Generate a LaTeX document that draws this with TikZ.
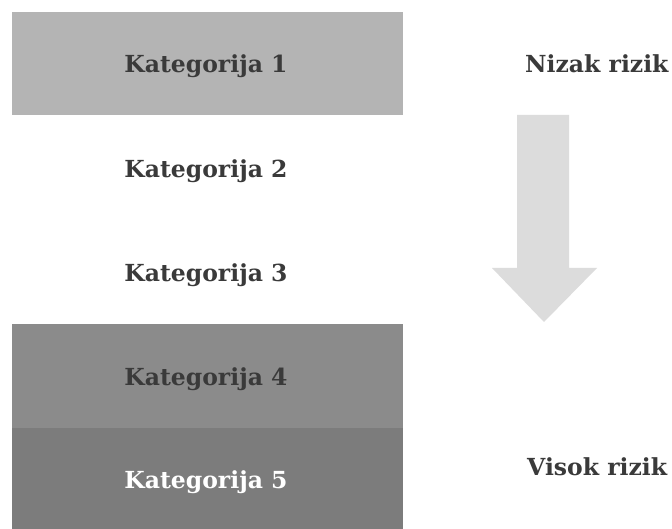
\documentclass[tikz,border=0pt]{standalone}
\usepackage{fontspec}
\setmainfont{DejaVu Serif}
\definecolor{bandA}{HTML}{B4B4B4}
\definecolor{bandD}{HTML}{8B8B8B}
\definecolor{bandE}{HTML}{7C7C7C}
\definecolor{arrowgray}{HTML}{DCDCDC}
\definecolor{txt}{HTML}{3A3A3A}
\tikzset{
  band/.style={draw=none, inner sep=0pt},
  lbl/.style={font=\fontsize{23.5}{27}\selectfont\bfseries, text=txt, inner sep=0pt, anchor=center},
  risk/.style={font=\fontsize{23.5}{27}\selectfont\bfseries, text=txt, inner sep=0pt, anchor=west}
}
\begin{document}
\begin{tikzpicture}[x=1pt,y=-1pt]
\useasboundingbox (0,0) rectangle (672,529);
\fill[white] (0,0) rectangle (672,529);
% bands
\fill[bandA] (12,12) rectangle (403,115);
\fill[bandD] (12,324) rectangle (403,428);
\fill[bandE] (12,428) rectangle (403,529);
% category labels
\node[lbl] (k1) at (206,66) {Kategorija 1};
\node[lbl] (k2) at (206,171) {Kategorija 2};
\node[lbl] (k3) at (206,275) {Kategorija 3};
\node[lbl] (k4) at (206,379) {Kategorija 4};
\node[lbl, text=white] (k5) at (206,482) {Kategorija 5};
% risk labels
\node[risk] (low) at (525,64) {Nizak rizik};
\node[risk] (high) at (527,467) {Visok rizik};
% arrow
\fill[arrowgray] (517,115) -- (569,115) -- (569,268) -- (597,268) -- (544,322) -- (492,268) -- (517,268) -- cycle;
\end{tikzpicture}
\end{document}
